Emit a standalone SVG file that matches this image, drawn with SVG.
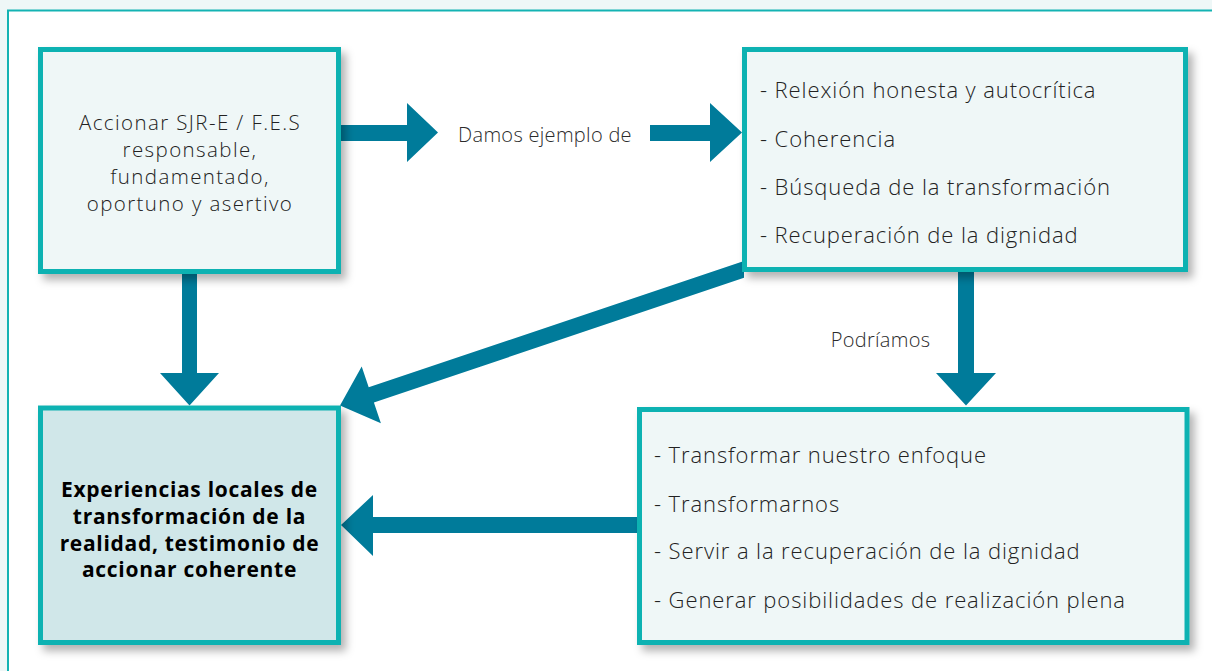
<svg xmlns="http://www.w3.org/2000/svg" width="1212" height="671" viewBox="0 0 1212 671">
  <defs>
    <filter id="sh" x="-10%" y="-10%" width="130%" height="130%">
      <feDropShadow dx="5" dy="6" stdDeviation="4" flood-color="#000" flood-opacity="0.3"/>
    </filter>
    <style>
      .box { stroke: #0fb2b2; stroke-width: 5; fill: #eff7f7; filter: url(#sh); }
      .hl { fill: #d0e7e9; }
      .arr { fill: #007b9a; }
      .t { font-family: "Open Sans", "Liberation Sans", sans-serif; font-size: 22px; font-weight: 300; letter-spacing: 0.9px; fill: #222; }
      .c { font-family: "Open Sans", "Liberation Sans", sans-serif; font-size: 20.5px; font-weight: 300; letter-spacing: 1.4px; fill: #222; }
      .lbl { font-family: "Open Sans", "Liberation Sans", sans-serif; font-size: 20px; font-weight: 300; letter-spacing: 0.3px; fill: #2b2b2b; }
      .b { font-family: "Open Sans", "Liberation Sans", sans-serif; font-size: 21px; font-weight: 700; letter-spacing: 0.7px; fill: #000; }
    </style>
  </defs>
  <rect x="0" y="0" width="1212" height="671" fill="#eef7f7"/>
  <rect x="8" y="10.5" width="1300" height="800" fill="#ffffff" stroke="#14b3b3" stroke-width="2"/>

  <g id="connectors">
    <polygon class="arr" points="341,125 407,125 407,103 438,132.5 407,162 407,141 341,141"/>
    <polygon class="arr" points="650,125 710,125 710,103 742,132.5 710,162 710,141 650,141"/>
    <polygon class="arr" points="182,272 197,272 197,373 219,373 189.5,405.5 160,373 182,373"/>
    <polygon class="arr" points="958,272 974,272 974,373 996,373 966,405.5 936,373 958,373"/>
    <polygon class="arr" points="640,517 373,517 373,495 341,525 373,556 373,533 640,533"/>
    <polygon class="arr" points="744,261 368.7,387.3 361.7,366.5 340,405.5 380.9,423.3 373.9,402.5 744,277.8"/>
    <text class="lbl" x="545" y="142" text-anchor="middle">Damos ejemplo de</text>
    <text class="lbl" x="880.5" y="347" text-anchor="middle">Podríamos</text>
  </g>

  <g id="node-accionar">
    <rect class="box" x="40.5" y="49.5" width="298" height="222"/>
    <text class="c" x="190" y="130" text-anchor="middle">Accionar SJR-E / F.E.S</text>
    <text class="c" x="190" y="157" text-anchor="middle">responsable,</text>
    <text class="c" x="190" y="184" text-anchor="middle">fundamentado,</text>
    <text class="c" x="190" y="211" text-anchor="middle">oportuno y asertivo</text>
  </g>

  <g id="node-ejemplo">
    <rect class="box" x="744.5" y="49.5" width="441" height="220"/>
    <text class="t" x="760" y="98">- Relexión honesta y autocrítica</text>
    <text class="t" x="760" y="147">- Coherencia</text>
    <text class="t" x="760" y="195">- Búsqueda de la transformación</text>
    <text class="t" x="760" y="243">- Recuperación de la dignidad</text>
  </g>

  <g id="node-experiencias">
    <rect class="box hl" x="40.5" y="408" width="298" height="234.5"/>
    <text class="b" x="189.5" y="497" text-anchor="middle">Experiencias locales de</text>
    <text class="b" x="189.5" y="524" text-anchor="middle">transformación de la</text>
    <text class="b" x="189.5" y="551" text-anchor="middle">realidad, testimonio de</text>
    <text class="b" x="189.5" y="577" text-anchor="middle">accionar coherente</text>
  </g>

  <g id="node-podriamos">
    <rect class="box" x="639.5" y="409.5" width="547.5" height="233"/>
    <text class="t" x="654" y="463">- Transformar nuestro enfoque</text>
    <text class="t" x="654" y="512">- Transformarnos</text>
    <text class="t" x="654" y="559">- Servir a la recuperación de la dignidad</text>
    <text class="t" x="654" y="608">- Generar posibilidades de realización plena</text>
  </g>
</svg>
